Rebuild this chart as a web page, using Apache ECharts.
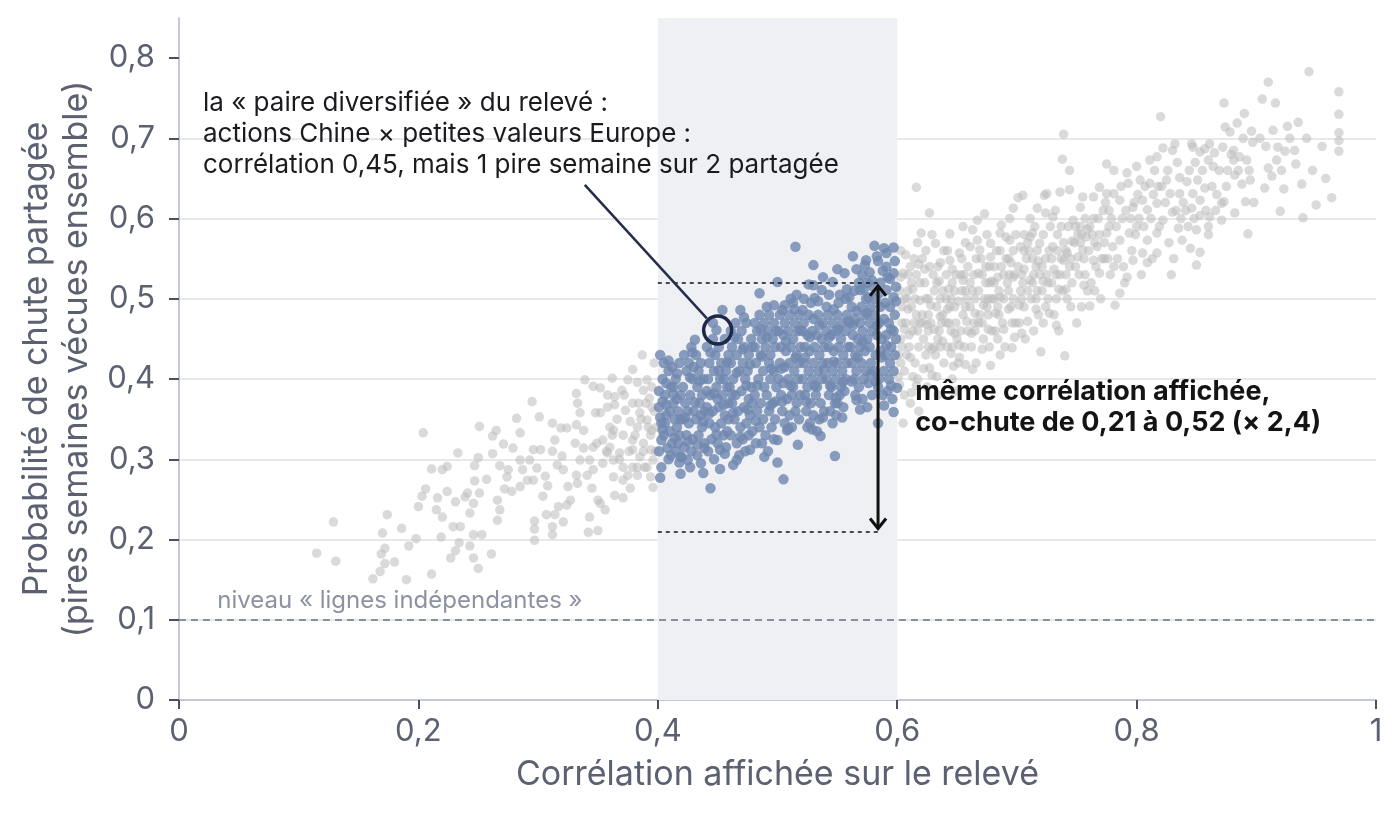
<!DOCTYPE html>
<html>
<head>
<meta charset="utf-8">
<title>Corrélation affichée vs chute partagée</title>
<script src="https://cdn.jsdelivr.net/npm/echarts/dist/echarts.min.js"></script>
<style>
  html, body { margin: 0; padding: 0; background: #fff; }
  #chart { width: 1400px; height: 816px; }
</style>
</head>
<body>
<div id="chart"></div>
<script>
// paires hors de la bande 0,4–0,6 (gris), côté gauche
var grayLeft = [
  [.115,.183],[.131,.173],[.129,.222],[.204,.333],[.174,.231],[.170,.208],[.172,.189],[.169,.182],[.172,.170],[.168,.160],
  [.162,.151],[.180,.172],[.190,.150],[.211,.157],[.186,.214],[.192,.192],[.198,.201],[.200,.241],[.206,.263],[.203,.254],
  [.211,.288],[.220,.287],[.224,.291],[.216,.252],[.215,.237],[.220,.228],[.224,.260],[.219,.203],[.233,.308],[.231,.247],
  [.239,.253],[.246,.245],[.243,.233],[.229,.216],[.235,.216],[.246,.206],[.253,.206],[.234,.196],[.231,.186],[.227,.177],
  [.246,.177],[.250,.164],[.261,.182],[.243,.192],[.251,.341],[.247,.292],[.250,.302],[.257,.275],[.247,.273],[.251,.258],
  [.241,.258],[.266,.249],[.268,.237],[.266,.224],[.262,.329],[.265,.336],[.271,.319],[.262,.307],[.268,.292],[.275,.287],
  [.274,.278],[.282,.351],[.285,.333],[.279,.314],[.285,.299],[.287,.287],[.291,.274],[.285,.266],[.278,.260],[.272,.263],
  [.295,.372],[.301,.353],[.296,.312],[.302,.312],[.293,.299],[.299,.289],[.296,.274],[.306,.279],[.308,.267],[.304,.254],
  [.307,.231],[.297,.223],[.297,.213],[.297,.199],[.312,.216],[.312,.206],[.321,.222],[.314,.231],[.317,.241],[.312,.345],
  [.319,.339],[.324,.339],[.314,.324],[.312,.310],[.320,.304],[.316,.293],[.321,.287],[.325,.266],[.327,.249],[.324,.243],
  [.332,.382],[.339,.399],[.346,.391],[.333,.370],[.335,.358],[.332,.343],[.338,.336],[.331,.320],[.338,.314],[.346,.315],
  [.335,.299],[.343,.299],[.332,.280],[.341,.280],[.333,.270],[.345,.264],[.343,.228],[.342,.209],[.350,.211],[.352,.245],
  [.356,.237],[.350,.249],[.346,.287],[.362,.401],[.352,.389],[.364,.378],[.364,.368],[.358,.365],[.352,.358],[.348,.358],
  [.360,.340],[.363,.336],[.354,.324],[.349,.320],[.360,.315],[.358,.308],[.368,.308],[.363,.299],[.354,.295],[.371,.290],
  [.363,.278],[.371,.274],[.364,.255],[.371,.252],[.377,.264],[.379,.412],[.375,.399],[.383,.396],[.370,.386],[.379,.370],
  [.373,.361],[.385,.358],[.377,.347],[.383,.340],[.391,.349],[.379,.324],[.388,.320],[.379,.312],[.385,.303],[.394,.312],
  [.383,.290],[.391,.290],[.375,.280],[.383,.280],[.394,.278],[.396,.265],[.393,.376],[.391,.399],[.388,.386],[.395,.365],
  [.395,.336],[.396,.299],[.381,.330],[.386,.350],[.392,.340],[.397,.360],[.371,.330],[.366,.350],[.376,.310],[.388,.310],
  [.394,.330],[.398,.310],[.362,.330],[.357,.310],[.368,.300],[.384,.370],[.390,.370],[.395,.390],[.372,.380],[.358,.380],
  [.399,.340],[.389,.290],[.379,.290],[.397,.420],[.387,.430]
];

// paires hors bande, côté droit
var grayRight = [
  [.602,.393],[.605,.532],[.611,.540],[.612,.383],[.611,.370],[.603,.450],[.607,.470],[.604,.490],[.609,.510],[.615,.420],
  [.618,.440],[.601,.430],[.606,.410],[.613,.460],[.616,.480],[.608,.500],[.619,.520],[.614,.550],[.617,.570],[.603,.560],
  [.610,.440],[.606,.380],[.617,.400],[.602,.510],[.612,.490],[.619,.470],[.604,.470],[.615,.500],[.609,.530],[.616,.639],
  [.613,.403],[.618,.360],[.605,.345],[.610,.455],
  [.622,.450],[.627,.540],[.627,.607],[.620,.582],[.632,.569],[.636,.545],[.629,.405],[.627,.414],[.624,.430],[.631,.440],
  [.635,.460],[.621,.480],[.626,.500],[.633,.490],[.638,.510],[.623,.520],[.630,.530],[.637,.470],[.639,.420],[.625,.390],
  [.634,.380],[.628,.470],[.621,.550],[.633,.520],[.639,.560],[.626,.460],[.624,.560],[.636,.500],[.632,.430],[.629,.580],
  [.644,.581],[.644,.548],[.652,.557],[.647,.416],[.652,.427],[.642,.440],[.645,.460],[.649,.470],[.655,.480],[.658,.500],
  [.641,.500],[.646,.520],[.653,.530],[.657,.510],[.643,.470],[.650,.450],[.656,.440],[.659,.460],[.648,.490],[.654,.550],
  [.641,.530],[.657,.570],[.646,.400],[.651,.420],[.659,.540],[.642,.560],[.648,.510],[.655,.590],[.649,.385],
  [.663,.586],[.661,.565],[.669,.561],[.673,.606],[.667,.598],[.678,.569],[.678,.417],[.662,.440],[.665,.460],[.671,.470],
  [.675,.490],[.679,.500],[.661,.490],[.668,.510],[.674,.520],[.677,.540],[.664,.530],[.670,.550],[.676,.480],[.666,.420],
  [.672,.450],[.679,.460],[.663,.510],[.671,.530],[.675,.580],[.668,.470],[.677,.440],
  [.686,.582],[.694,.573],[.697,.613],[.696,.439],[.682,.460],[.685,.480],[.689,.500],[.693,.510],[.698,.530],[.681,.520],
  [.687,.540],[.691,.550],[.695,.490],[.699,.470],[.684,.450],[.690,.440],[.683,.560],[.692,.520],[.697,.560],[.688,.470],
  [.694,.600],[.681,.500],[.699,.580],[.686,.430],
  [.701,.626],[.705,.629],[.703,.565],[.711,.577],[.719,.569],[.717,.613],[.720,.434],[.702,.470],[.706,.490],[.709,.510],
  [.713,.520],[.716,.540],[.704,.530],[.708,.550],[.712,.500],[.718,.480],[.714,.460],[.707,.450],[.719,.530],[.703,.510],
  [.710,.560],[.715,.590],[.711,.600],[.706,.580],[.717,.510],
  [.723,.629],[.725,.631],[.730,.602],[.730,.565],[.736,.633],[.738,.674],[.739,.705],[.740,.429],[.722,.470],[.726,.500],
  [.729,.520],[.733,.530],[.737,.550],[.721,.540],[.727,.560],[.734,.580],[.738,.510],[.724,.490],[.731,.480],[.735,.460],
  [.739,.570],[.728,.590],[.732,.610],[.722,.580],
  [.742,.557],[.744,.636],[.744,.660],[.747,.598],[.753,.614],[.753,.590],[.755,.627],[.755,.561],[.758,.577],[.742,.500],
  [.746,.520],[.749,.540],[.752,.530],[.756,.550],[.759,.510],[.745,.490],[.750,.470],[.748,.570],[.757,.600],[.741,.530],
  [.751,.580],[.754,.490],[.743,.590],
  [.761,.491],[.764,.627],[.764,.548],[.767,.565],[.769,.532],[.769,.639],[.775,.631],[.775,.582],[.775,.668],[.762,.520],
  [.766,.540],[.771,.550],[.773,.570],[.777,.590],[.779,.600],[.763,.580],[.768,.600],[.772,.610],[.776,.550],[.778,.530],
  [.765,.510],[.770,.500],[.774,.620],[.760,.560],
  [.780,.565],[.781,.540],[.781,.631],[.781,.660],[.782,.492],[.786,.507],[.786,.573],[.786,.623],[.792,.527],[.792,.657],
  [.793,.644],[.794,.582],[.797,.614],[.797,.548],[.783,.590],[.788,.600],[.791,.610],[.795,.600],[.799,.580],[.784,.550],
  [.789,.540],[.796,.560],[.798,.620],[.787,.640],[.790,.520],
  [.800,.590],[.800,.665],[.803,.648],[.805,.623],[.805,.557],[.809,.611],[.809,.573],[.809,.545],[.811,.673],[.811,.644],
  [.815,.660],[.817,.677],[.817,.619],[.817,.582],[.817,.557],[.820,.727],[.802,.600],[.806,.590],[.812,.600],[.814,.630],
  [.818,.640],[.804,.530],[.813,.550],[.819,.590],[.807,.640],[.801,.630],
  [.822,.688],[.822,.598],[.825,.648],[.828,.631],[.830,.685],[.830,.608],[.832,.693],[.835,.588],[.836,.651],[.836,.631],
  [.838,.573],[.824,.620],[.827,.570],[.833,.610],[.839,.620],[.826,.660],[.834,.670],[.821,.640],[.831,.550],[.837,.600],
  [.829,.530],
  [.842,.646],[.845,.563],[.846,.693],[.846,.613],[.847,.689],[.847,.631],[.850,.586],[.850,.542],[.851,.648],[.853,.683],
  [.853,.623],[.853,.604],[.853,.558],[.857,.687],[.857,.638],[.841,.610],[.844,.660],[.849,.670],[.855,.660],[.858,.610],
  [.843,.590],[.848,.600],
  [.860,.673],[.860,.590],[.860,.580],[.861,.693],[.861,.602],[.864,.665],[.865,.682],[.871,.619],[.871,.598],[.872,.689],
  [.873,.744],[.873,.621],[.874,.714],[.876,.660],[.878,.708],[.863,.640],[.867,.630],[.869,.660],[.875,.640],[.879,.680],
  [.866,.610],
  [.881,.673],[.881,.685],[.882,.607],[.882,.654],[.884,.719],[.886,.677],[.888,.643],[.890,.731],[.891,.621],[.892,.673],
  [.893,.581],[.895,.648],[.896,.709],[.897,.695],[.898,.620],[.885,.660],[.889,.700],[.894,.660],
  [.905,.749],[.907,.638],[.910,.770],[.910,.663],[.913,.653],[.916,.744],[.917,.673],[.918,.689],[.920,.609],[.923,.637],
  [.924,.684],[.926,.715],[.903,.700],[.908,.690],[.914,.710],[.921,.660],[.928,.700],
  [.932,.685],[.933,.668],[.938,.643],[.939,.601],[.944,.783],[.950,.617],[.963,.626],[.969,.758],[.969,.730],[.969,.707],
  [.969,.697],[.969,.684],[.935,.720],[.942,.700],[.947,.660],[.955,.690],[.958,.650],
  [.603,.420],[.608,.430],[.612,.520],[.617,.460],[.621,.470],[.626,.440],[.631,.510],[.634,.450],[.638,.480],[.641,.470],
  [.645,.500],[.649,.530],[.653,.460],[.657,.490],[.661,.520],[.665,.500],[.669,.480],[.673,.500],[.677,.520],[.681,.540],
  [.685,.510],[.689,.530],[.693,.550],[.697,.500],[.701,.540],[.705,.520],[.709,.570],[.713,.550],[.717,.560],[.721,.510],
  [.725,.530],[.729,.550],[.733,.500],[.737,.590],[.741,.560],[.745,.550],[.749,.590],[.753,.570],[.757,.530],[.761,.590],
  [.765,.570],[.769,.580],[.773,.550],[.777,.610],[.604,.440],[.614,.470],[.624,.500],[.634,.540],[.644,.490],[.654,.510],
  [.664,.470],[.674,.540],[.684,.490],[.694,.530],[.704,.500],[.714,.530],[.724,.550],[.734,.560],[.744,.540],[.754,.580],
  [.764,.600],[.606,.500],[.616,.530],[.626,.480],[.636,.440],[.646,.440],[.656,.530],[.666,.550],[.676,.500],[.686,.560],
  [.696,.470],[.706,.560],[.716,.500],[.726,.520],[.736,.530],
  [.601,.403],[.606,.462],[.609,.487],[.613,.512],[.618,.543],[.603,.527],[.611,.427],[.616,.392],[.619,.498],[.607,.555],
  [.622,.413],[.625,.468],[.628,.492],[.631,.462],[.635,.522],[.638,.447],[.623,.537],[.629,.437],[.636,.478],[.633,.403],
  [.642,.487],[.645,.432],[.648,.457],[.651,.497],[.655,.523],[.658,.472],[.643,.512],[.652,.442],[.657,.418],[.646,.537],
  [.662,.457],[.665,.482],[.668,.532],[.672,.492],[.676,.462],[.679,.522],[.663,.412],[.671,.437],[.678,.552],[.667,.573],
  [.682,.482],[.686,.502],[.689,.462],[.693,.487],[.697,.527],[.684,.527],[.691,.577],[.698,.452],[.687,.592],[.695,.545],
  [.702,.492],[.706,.537],[.709,.472],[.713,.582],[.718,.547],[.704,.457],[.711,.523],[.716,.487],[.722,.522],[.727,.482],
  [.731,.537],[.735,.512],[.739,.548],[.724,.607],[.733,.467],[.741,.512],[.746,.572],[.751,.552],[.756,.517],[.759,.587]
];

// paires dont la corrélation affichée est entre 0,4 et 0,6 (bleu)
var bandPts = [
  [.402,.430],[.402,.277],[.403,.324],[.408,.314],[.405,.420],[.409,.410],[.404,.400],[.411,.390],[.406,.380],[.413,.370],
  [.401,.365],[.407,.355],[.414,.350],[.403,.345],[.410,.335],[.416,.340],[.405,.330],[.412,.320],[.418,.330],[.401,.310],
  [.409,.300],[.415,.310],[.419,.303],[.417,.360],[.419,.380],[.415,.400],[.418,.420],[.412,.415],[.407,.395],[.401,.385],
  [.404,.372],[.410,.360],[.416,.375],[.413,.390],[.406,.345],[.419,.350],[.403,.290],[.411,.305],[.417,.320],
  [.419,.282],[.420,.303],[.425,.299],[.431,.449],[.428,.440],[.438,.283],[.439,.314],[.422,.430],[.426,.420],[.432,.430],
  [.436,.420],[.424,.410],[.429,.400],[.434,.410],[.438,.400],[.421,.390],[.427,.380],[.433,.390],[.437,.380],[.423,.370],
  [.430,.360],[.435,.370],[.439,.360],[.421,.350],[.426,.345],[.432,.350],[.437,.340],[.424,.330],[.429,.325],[.434,.330],
  [.439,.320],[.422,.315],[.428,.310],[.433,.305],[.436,.295],[.427,.290],[.430,.415],[.425,.360],[.436,.355],
  [.444,.264],[.449,.461],[.454,.486],[.452,.312],[.441,.440],[.446,.450],[.451,.440],[.456,.450],[.459,.430],[.443,.420],
  [.448,.430],[.453,.420],[.457,.410],[.442,.400],[.447,.410],[.452,.400],[.458,.390],[.444,.380],[.449,.390],[.454,.380],
  [.459,.370],[.441,.365],[.446,.360],[.451,.365],[.456,.355],[.443,.345],[.448,.340],[.453,.345],[.458,.335],[.445,.325],
  [.450,.320],[.455,.330],[.442,.310],[.447,.300],[.457,.315],[.459,.350],[.441,.385],[.450,.375],[.455,.400],[.446,.470],
  [.463,.293],[.466,.299],[.469,.486],[.477,.312],[.461,.460],[.465,.470],[.470,.460],[.474,.470],[.478,.450],[.462,.440],
  [.467,.450],[.472,.440],[.476,.430],[.479,.440],[.461,.420],[.466,.430],[.471,.420],[.475,.410],[.463,.400],[.468,.410],
  [.473,.400],[.478,.390],[.460,.390],[.465,.380],[.470,.385],[.476,.375],[.462,.370],[.467,.360],[.472,.365],[.477,.355],
  [.464,.350],[.469,.340],[.474,.345],[.479,.335],[.461,.330],[.466,.320],[.471,.325],[.476,.330],[.468,.305],[.473,.310],
  [.479,.370],
  [.482,.320],[.485,.507],[.491,.490],[.481,.470],[.485,.480],[.489,.470],[.493,.480],[.497,.470],[.483,.460],[.487,.450],
  [.492,.460],[.496,.450],[.499,.460],[.481,.440],[.486,.430],[.490,.440],[.494,.430],[.498,.440],[.482,.420],[.488,.410],
  [.493,.420],[.497,.410],[.484,.400],[.489,.390],[.494,.400],[.499,.390],[.481,.380],[.486,.370],[.491,.380],[.496,.370],
  [.483,.360],[.488,.350],[.493,.360],[.498,.350],[.485,.340],[.490,.330],[.495,.340],[.487,.320],[.497,.325],[.492,.310],
  [.500,.521],[.500,.296],[.500,.324],[.504,.486],[.505,.275],[.508,.336],[.513,.495],[.515,.565],[.502,.480],[.506,.470],
  [.510,.480],[.514,.470],[.518,.480],[.501,.460],[.505,.455],[.509,.460],[.513,.450],[.517,.460],[.503,.440],[.507,.435],
  [.511,.440],[.516,.430],[.519,.440],[.502,.420],[.506,.415],[.510,.420],[.514,.410],[.518,.420],[.501,.400],[.505,.395],
  [.509,.400],[.513,.390],[.517,.400],[.503,.380],[.508,.375],[.512,.380],[.516,.370],[.504,.360],[.510,.355],[.515,.360],
  [.506,.345],[.512,.340],[.518,.350],[.519,.380],[.511,.500],[.516,.505],
  [.521,.486],[.525,.340],[.530,.542],[.530,.517],[.531,.501],[.536,.329],[.537,.511],[.538,.527],[.522,.470],[.526,.480],
  [.530,.475],[.534,.480],[.538,.470],[.521,.460],[.525,.455],[.529,.460],[.533,.455],[.537,.450],[.523,.440],[.527,.435],
  [.531,.440],[.535,.430],[.539,.440],[.522,.420],[.526,.410],[.530,.420],[.534,.410],[.538,.420],[.521,.400],[.525,.390],
  [.529,.400],[.533,.390],[.537,.400],[.523,.380],[.528,.370],[.532,.380],[.536,.370],[.524,.360],[.530,.355],[.535,.350],
  [.539,.360],[.527,.345],[.533,.335],[.522,.500],[.528,.495],
  [.541,.490],[.546,.521],[.546,.345],[.548,.304],[.550,.537],[.551,.495],[.550,.370],[.556,.532],[.542,.480],[.546,.470],
  [.550,.480],[.554,.470],[.558,.480],[.541,.460],[.545,.455],[.549,.460],[.553,.450],[.557,.460],[.543,.440],[.547,.435],
  [.551,.440],[.555,.430],[.559,.440],[.542,.420],[.546,.410],[.550,.420],[.554,.410],[.558,.420],[.541,.400],[.545,.390],
  [.549,.400],[.553,.390],[.557,.400],[.543,.380],[.548,.370],[.552,.380],[.556,.385],[.544,.360],[.549,.355],[.555,.365],
  [.552,.505],[.557,.500],[.543,.505],
  [.560,.502],[.563,.553],[.566,.374],[.569,.511],[.573,.542],[.577,.533],[.562,.490],[.566,.485],[.570,.490],[.574,.500],
  [.578,.490],[.561,.470],[.565,.475],[.569,.470],[.573,.480],[.577,.470],[.563,.455],[.567,.450],[.571,.460],[.575,.450],
  [.579,.460],[.561,.440],[.565,.430],[.569,.440],[.573,.435],[.577,.440],[.562,.420],[.566,.410],[.570,.420],[.574,.410],
  [.578,.420],[.564,.400],[.568,.390],[.572,.400],[.576,.395],[.565,.380],[.571,.375],[.575,.365],[.579,.380],[.568,.520],
  [.575,.520],[.571,.530],[.564,.510],
  [.580,.515],[.581,.566],[.583,.553],[.584,.345],[.591,.557],[.591,.540],[.591,.511],[.597,.564],[.597,.532],[.597,.502],
  [.597,.359],[.600,.389],[.582,.500],[.586,.490],[.590,.495],[.594,.490],[.598,.480],[.581,.480],[.585,.470],[.589,.475],
  [.593,.470],[.597,.460],[.583,.455],[.587,.450],[.591,.455],[.595,.440],[.599,.450],[.582,.430],[.586,.435],[.590,.430],
  [.594,.420],[.598,.430],[.581,.410],[.585,.400],[.589,.410],[.593,.400],[.597,.410],[.584,.390],[.588,.380],[.592,.385],
  [.596,.375],[.586,.520],[.594,.525],[.588,.535],[.599,.515],
  [.404,.337],[.407,.368],[.413,.381],[.416,.407],[.409,.423],[.402,.352],[.418,.296],[.414,.327],
  [.423,.352],[.427,.402],[.431,.371],[.435,.398],[.438,.347],[.425,.322],[.433,.318],[.429,.433],
  [.443,.357],[.447,.382],[.451,.411],[.455,.368],[.458,.421],[.444,.433],[.449,.331],[.456,.307],[.452,.288],
  [.462,.381],[.466,.408],[.471,.437],[.474,.392],[.477,.418],[.463,.358],[.469,.328],[.475,.362],[.464,.452],[.472,.477],
  [.483,.392],[.487,.428],[.491,.452],[.495,.413],[.498,.372],[.482,.348],[.486,.462],[.494,.367],[.489,.303],[.497,.492],
  [.503,.413],[.507,.447],[.511,.392],[.515,.427],[.519,.461],[.504,.372],[.509,.338],[.514,.487],[.517,.318],[.506,.492],
  [.523,.427],[.527,.452],[.531,.392],[.535,.467],[.539,.412],[.524,.372],[.529,.337],[.534,.497],[.538,.352],[.526,.518],
  [.543,.452],[.547,.422],[.551,.462],[.555,.397],[.559,.472],[.544,.392],[.549,.377],[.554,.352],[.558,.512],[.547,.487],
  [.563,.467],[.567,.427],[.571,.447],[.575,.482],[.578,.407],[.562,.397],[.569,.362],[.576,.502],[.572,.512],[.566,.537],
  [.583,.467],[.587,.427],[.591,.442],[.595,.462],[.599,.497],[.582,.397],[.589,.367],[.595,.392],[.585,.507],[.592,.527],
  [.584,.547],[.598,.547],[.589,.563],[.579,.523],[.574,.548]
];

var xTicks = [0, 0.2, 0.4, 0.6, 0.8, 1];
var yTicks = [0, 0.1, 0.2, 0.3, 0.4, 0.5, 0.6, 0.7, 0.8];
var bandRange = [0.4, 0.6];
var independentLevel = 0.1;
var highlighted = [0.45, 0.461];   // actions Chine x petites valeurs Europe
var coFall = [0.21, 0.52];         // co-chute min / max dans la bande
var arrowX = 0.584;

var FONT = 'Inter, "Noto Sans", sans-serif';
function fr(v) { return String(Math.round(v * 100) / 100).replace('.', ','); }

var myChart = echarts.init(document.getElementById('chart'));

var option = {
  animation: false,
  textStyle: { fontFamily: FONT },
  grid: { left: 179, right: 24, top: 18, bottom: 116 },
  xAxis: {
    type: 'value', min: 0, max: 1, interval: 0.2,
    name: 'Corrélation affichée sur le relevé',
    nameLocation: 'middle', nameGap: 58,
    nameTextStyle: { fontSize: 34, color: '#5c6172', fontFamily: FONT },
    axisLine: { lineStyle: { color: '#c6c9d3', width: 2 } },
    axisTick: { show: true, length: 9, lineStyle: { color: '#4b5060', width: 2 } },
    axisLabel: { fontSize: 31, color: '#5c6172', margin: 16, formatter: fr },
    splitLine: { show: false }
  },
  yAxis: {
    type: 'value', min: 0, max: 0.85, interval: 0.1,
    name: 'Probabilité de chute partagée\n(pires semaines vécues ensemble)',
    nameLocation: 'middle', nameGap: 80, nameRotate: 90,
    nameTextStyle: { fontSize: 34, color: '#5c6172', lineHeight: 40, fontFamily: FONT },
    axisLine: { show: true, lineStyle: { color: '#c6c9d3', width: 2 } },
    axisTick: { show: true, length: 10, customValues: yTicks, lineStyle: { color: '#4b5060', width: 2 } },
    axisLabel: { fontSize: 31, color: '#5c6172', margin: 24, customValues: yTicks, formatter: fr },
    splitLine: { show: true, showMinLine: false, showMaxLine: false, lineStyle: { color: '#e7e8ec', width: 2 } }
  },
  series: [
    {
      name: 'hors bande', type: 'scatter', symbolSize: 9.5,
      data: grayLeft.concat(grayRight),
      itemStyle: { color: '#bcbcbc', opacity: 0.55 },
      markArea: {
        silent: true,
        itemStyle: { color: '#eef0f4' },
        data: [[{ xAxis: bandRange[0], yAxis: 0 }, { xAxis: bandRange[1], yAxis: 0.85 }]]
      },
      markLine: {
        silent: true, symbol: 'none',
        label: { show: false },
        lineStyle: { color: '#8a8f9e', type: [7, 5], width: 2 },
        data: [{ yAxis: independentLevel }]
      },
      z: 2
    },
    {
      name: 'bande 0,4–0,6', type: 'scatter', symbolSize: 10.5,
      data: bandPts,
      itemStyle: { color: '#7088b0', opacity: 0.82 },
      markLine: {
        silent: true, symbol: 'none',
        label: { show: false },
        lineStyle: { color: '#111', type: [4, 4], width: 1.6 },
        data: [
          [{ coord: [bandRange[0], coFall[1]] }, { coord: [arrowX, coFall[1]] }],
          [{ coord: [bandRange[0], coFall[0]] }, { coord: [arrowX, coFall[0]] }]
        ]
      },
      z: 3
    }
  ]
};

myChart.setOption(option);

// annotations placées en coordonnées de données
function px(p) { return myChart.convertToPixel({ gridIndex: 0 }, p); }

var c = px(highlighted);
var lineStart = px([0.339, 0.642]);
var dx = c[0] - lineStart[0], dy = c[1] - lineStart[1];
var len = Math.sqrt(dx * dx + dy * dy);
var r = 14;
var lineEnd = [lineStart[0] + dx * (len - r - 2) / len, lineStart[1] + dy * (len - r - 2) / len];

var aTop = px([arrowX, coFall[1]]);
var aBot = px([arrowX, coFall[0]]);
var textA = px([0.02, 0.744]);
var textB = px([0.615, 0.385]);
var textC = px([0.032, 0.122]);

myChart.setOption({
  graphic: [
    {
      type: 'text', left: textA[0], top: textA[1] - 15, z: 10,
      style: {
        text: 'la « paire diversifiée » du relevé :\nactions Chine × petites valeurs Europe :\ncorrélation 0,45, mais 1 pire semaine sur 2 partagée',
        font: '26px ' + FONT, fill: '#1b1b1f', lineHeight: 31
      }
    },
    {
      type: 'line', z: 10,
      shape: { x1: lineStart[0], y1: lineStart[1], x2: lineEnd[0], y2: lineEnd[1] },
      style: { stroke: '#262c4c', lineWidth: 2.5 }
    },
    {
      type: 'circle', z: 10,
      shape: { cx: c[0], cy: c[1], r: r },
      style: { fill: 'none', stroke: '#1f2848', lineWidth: 3.5 }
    },
    {
      type: 'line', z: 10,
      shape: { x1: aTop[0], y1: aTop[1] + 3, x2: aBot[0], y2: aBot[1] - 3 },
      style: { stroke: '#111', lineWidth: 3 }
    },
    {
      type: 'polyline', z: 10,
      shape: { points: [[aTop[0] - 8, aTop[1] + 13], [aTop[0], aTop[1] + 3], [aTop[0] + 8, aTop[1] + 13]] },
      style: { stroke: '#111', lineWidth: 3, fill: 'none' }
    },
    {
      type: 'polyline', z: 10,
      shape: { points: [[aBot[0] - 8, aBot[1] - 13], [aBot[0], aBot[1] - 3], [aBot[0] + 8, aBot[1] - 13]] },
      style: { stroke: '#111', lineWidth: 3, fill: 'none' }
    },
    {
      type: 'text', left: textB[0], top: textB[1] - 15, z: 10,
      style: {
        text: 'même corrélation affichée,\nco-chute de ' + fr(coFall[0]) + ' à ' + fr(coFall[1]) + ' (× 2,4)',
        font: 'bold 27px ' + FONT, fill: '#141414', lineHeight: 31
      }
    },
    {
      type: 'text', left: textC[0], top: textC[1] - 13, z: 10,
      style: {
        text: 'niveau « lignes indépendantes »',
        font: '24px ' + FONT, fill: '#8d92a2'
      }
    }
  ]
});
</script>
</body>
</html>
